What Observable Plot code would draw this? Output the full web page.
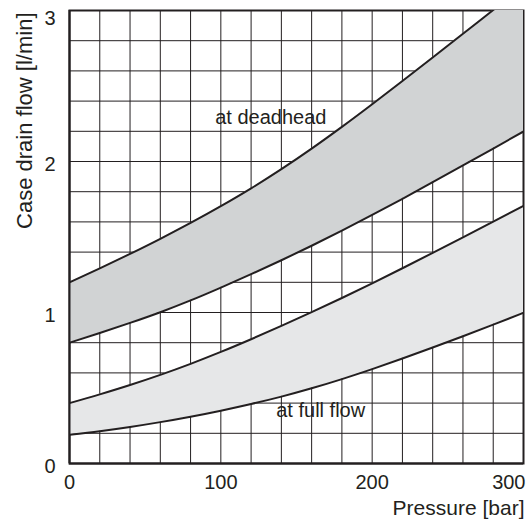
<!DOCTYPE html>
<html>
<head>
<meta charset="utf-8">
<script src="https://cdn.jsdelivr.net/npm/d3@7"></script>
<script src="https://cdn.jsdelivr.net/npm/@observablehq/plot@0.6"></script>
<style>
  html, body { margin: 0; padding: 0; background: #fff; }
  svg { display: block; }
</style>
</head>
<body>
<div id="chart"></div>
<script>
// Pressure [bar]
const pressure = [0, 20, 40, 60, 80, 100, 120, 140, 160, 180, 200, 220, 240, 260, 280, 300];
// Case drain flow [l/min]
const deadheadHigh = [1.20, 1.292, 1.388, 1.488, 1.593, 1.704, 1.822, 1.949, 2.085, 2.229, 2.379, 2.533, 2.689, 2.846, 3.003, 3.16];
const deadheadLow  = [0.80, 0.864, 0.931, 1.002, 1.080, 1.165, 1.254, 1.346, 1.442, 1.542, 1.646, 1.753, 1.863, 1.974, 2.086, 2.199];
const fullFlowHigh = [0.40, 0.458, 0.520, 0.587, 0.660, 0.739, 0.823, 0.911, 1.002, 1.096, 1.193, 1.293, 1.395, 1.498, 1.602, 1.707];
const fullFlowLow  = [0.19, 0.214, 0.242, 0.274, 0.310, 0.350, 0.394, 0.443, 0.498, 0.559, 0.625, 0.695, 0.768, 0.843, 0.920, 0.998];

// Grid and ticks
const xGrid = [0, 20, 40, 60, 80, 100, 120, 140, 160, 180, 200, 220, 240, 260, 280, 300];
const yGrid = [0, 0.2, 0.4, 0.6, 0.8, 1.0, 1.2, 1.4, 1.6, 1.8, 2.0, 2.2, 2.4, 2.6, 2.8, 3.0];
const xTicks = [0, 100, 200];
const xTickLast = [300];
const yTicks = [0, 1, 2];
const yTickLast = [3];

// Band labels (anchored in data units)
const labelText = ["at deadhead", "at full flow"];
const labelPressure = [133, 166];
const labelFlow = [2.29, 0.35];

const rows = pressure.map((p, i) => ({
  p,
  dhLo: deadheadLow[i], dhHi: deadheadHigh[i],
  ffLo: fullFlowLow[i], ffHi: fullFlowHigh[i]
}));

const ink = "#231f20";
const font = "'Liberation Sans', Arial, Helvetica, sans-serif";
const curve = "monotone-x";
const fmt = d => String(d);

const chart = Plot.plot({
  width: 531,
  height: 519,
  marginLeft: 69,
  marginRight: 8,
  marginTop: 10,
  marginBottom: 56,
  style: { fontFamily: font, background: "#fff", color: ink, overflow: "visible" },
  x: { domain: [0, 300] },
  y: { domain: [0, 3] },
  marks: [
    Plot.gridX(xGrid, { stroke: ink, strokeOpacity: 1, strokeWidth: 1 }),
    Plot.gridY(yGrid, { stroke: ink, strokeOpacity: 1, strokeWidth: 1 }),
    Plot.frame({ stroke: ink, strokeWidth: 2 }),
    Plot.areaY(rows, { x: "p", y1: "dhLo", y2: "dhHi", fill: "#d1d3d4", curve, clip: true }),
    Plot.areaY(rows, { x: "p", y1: "ffLo", y2: "ffHi", fill: "#e6e7e8", curve, clip: true }),
    Plot.lineY(rows, { x: "p", y: "dhHi", stroke: ink, strokeWidth: 2, curve, clip: true }),
    Plot.lineY(rows, { x: "p", y: "dhLo", stroke: ink, strokeWidth: 2, curve, clip: true }),
    Plot.lineY(rows, { x: "p", y: "ffHi", stroke: ink, strokeWidth: 2, curve, clip: true }),
    Plot.lineY(rows, { x: "p", y: "ffLo", stroke: ink, strokeWidth: 2, curve, clip: true }),
    Plot.ruleX([0], { stroke: ink, strokeWidth: 2 }),
    Plot.ruleY([0], { stroke: ink, strokeWidth: 2 }),
    Plot.axisX(xTicks, { tickSize: 0, tickPadding: 11, fontSize: 20, label: null, fill: ink, tickFormat: fmt }),
    Plot.axisX(xTickLast, { tickSize: 0, tickPadding: 11, fontSize: 20, label: null, textAnchor: "end", dx: 2, fill: ink, tickFormat: fmt }),
    Plot.axisY(yTicks, { tickSize: 0, tickPadding: 14, fontSize: 20, label: null, dy: 3, fill: ink, tickFormat: fmt }),
    Plot.axisY(yTickLast, { tickSize: 0, tickPadding: 14, fontSize: 20, label: null, dy: 8, fill: ink, tickFormat: fmt }),
    Plot.text(["Pressure [bar]"], {
      text: d => d, frameAnchor: "bottom-right", textAnchor: "end", lineAnchor: "middle",
      dx: 1, dy: 45, fontSize: 21, fill: ink
    }),
    Plot.text(["Case drain flow [l/min]"], {
      text: d => d, frameAnchor: "top-left", rotate: -90, textAnchor: "end", lineAnchor: "middle",
      dx: -45, dy: 2, fontSize: 22, fill: ink
    }),
    Plot.text(labelText, {
      text: d => d, x: labelPressure, y: labelFlow, fontSize: 20, fill: ink,
      lineAnchor: "middle", ariaLabel: "curve-label"
    })
  ]
});

document.getElementById("chart").appendChild(chart);

// white boxes behind the band labels
d3.select(chart).selectAll('g[aria-label="curve-label"] text').each(function () {
  const b = this.getBBox();
  const rect = document.createElementNS("http://www.w3.org/2000/svg", "rect");
  rect.setAttribute("x", b.x - 2);
  rect.setAttribute("y", b.y - 1);
  rect.setAttribute("width", b.width + 5);
  rect.setAttribute("height", b.height + 2);
  rect.setAttribute("fill", "#fff");
  rect.setAttribute("stroke", "none");
  const t = this.getAttribute("transform");
  if (t) rect.setAttribute("transform", t);
  this.parentNode.insertBefore(rect, this);
});
</script>
</body>
</html>
